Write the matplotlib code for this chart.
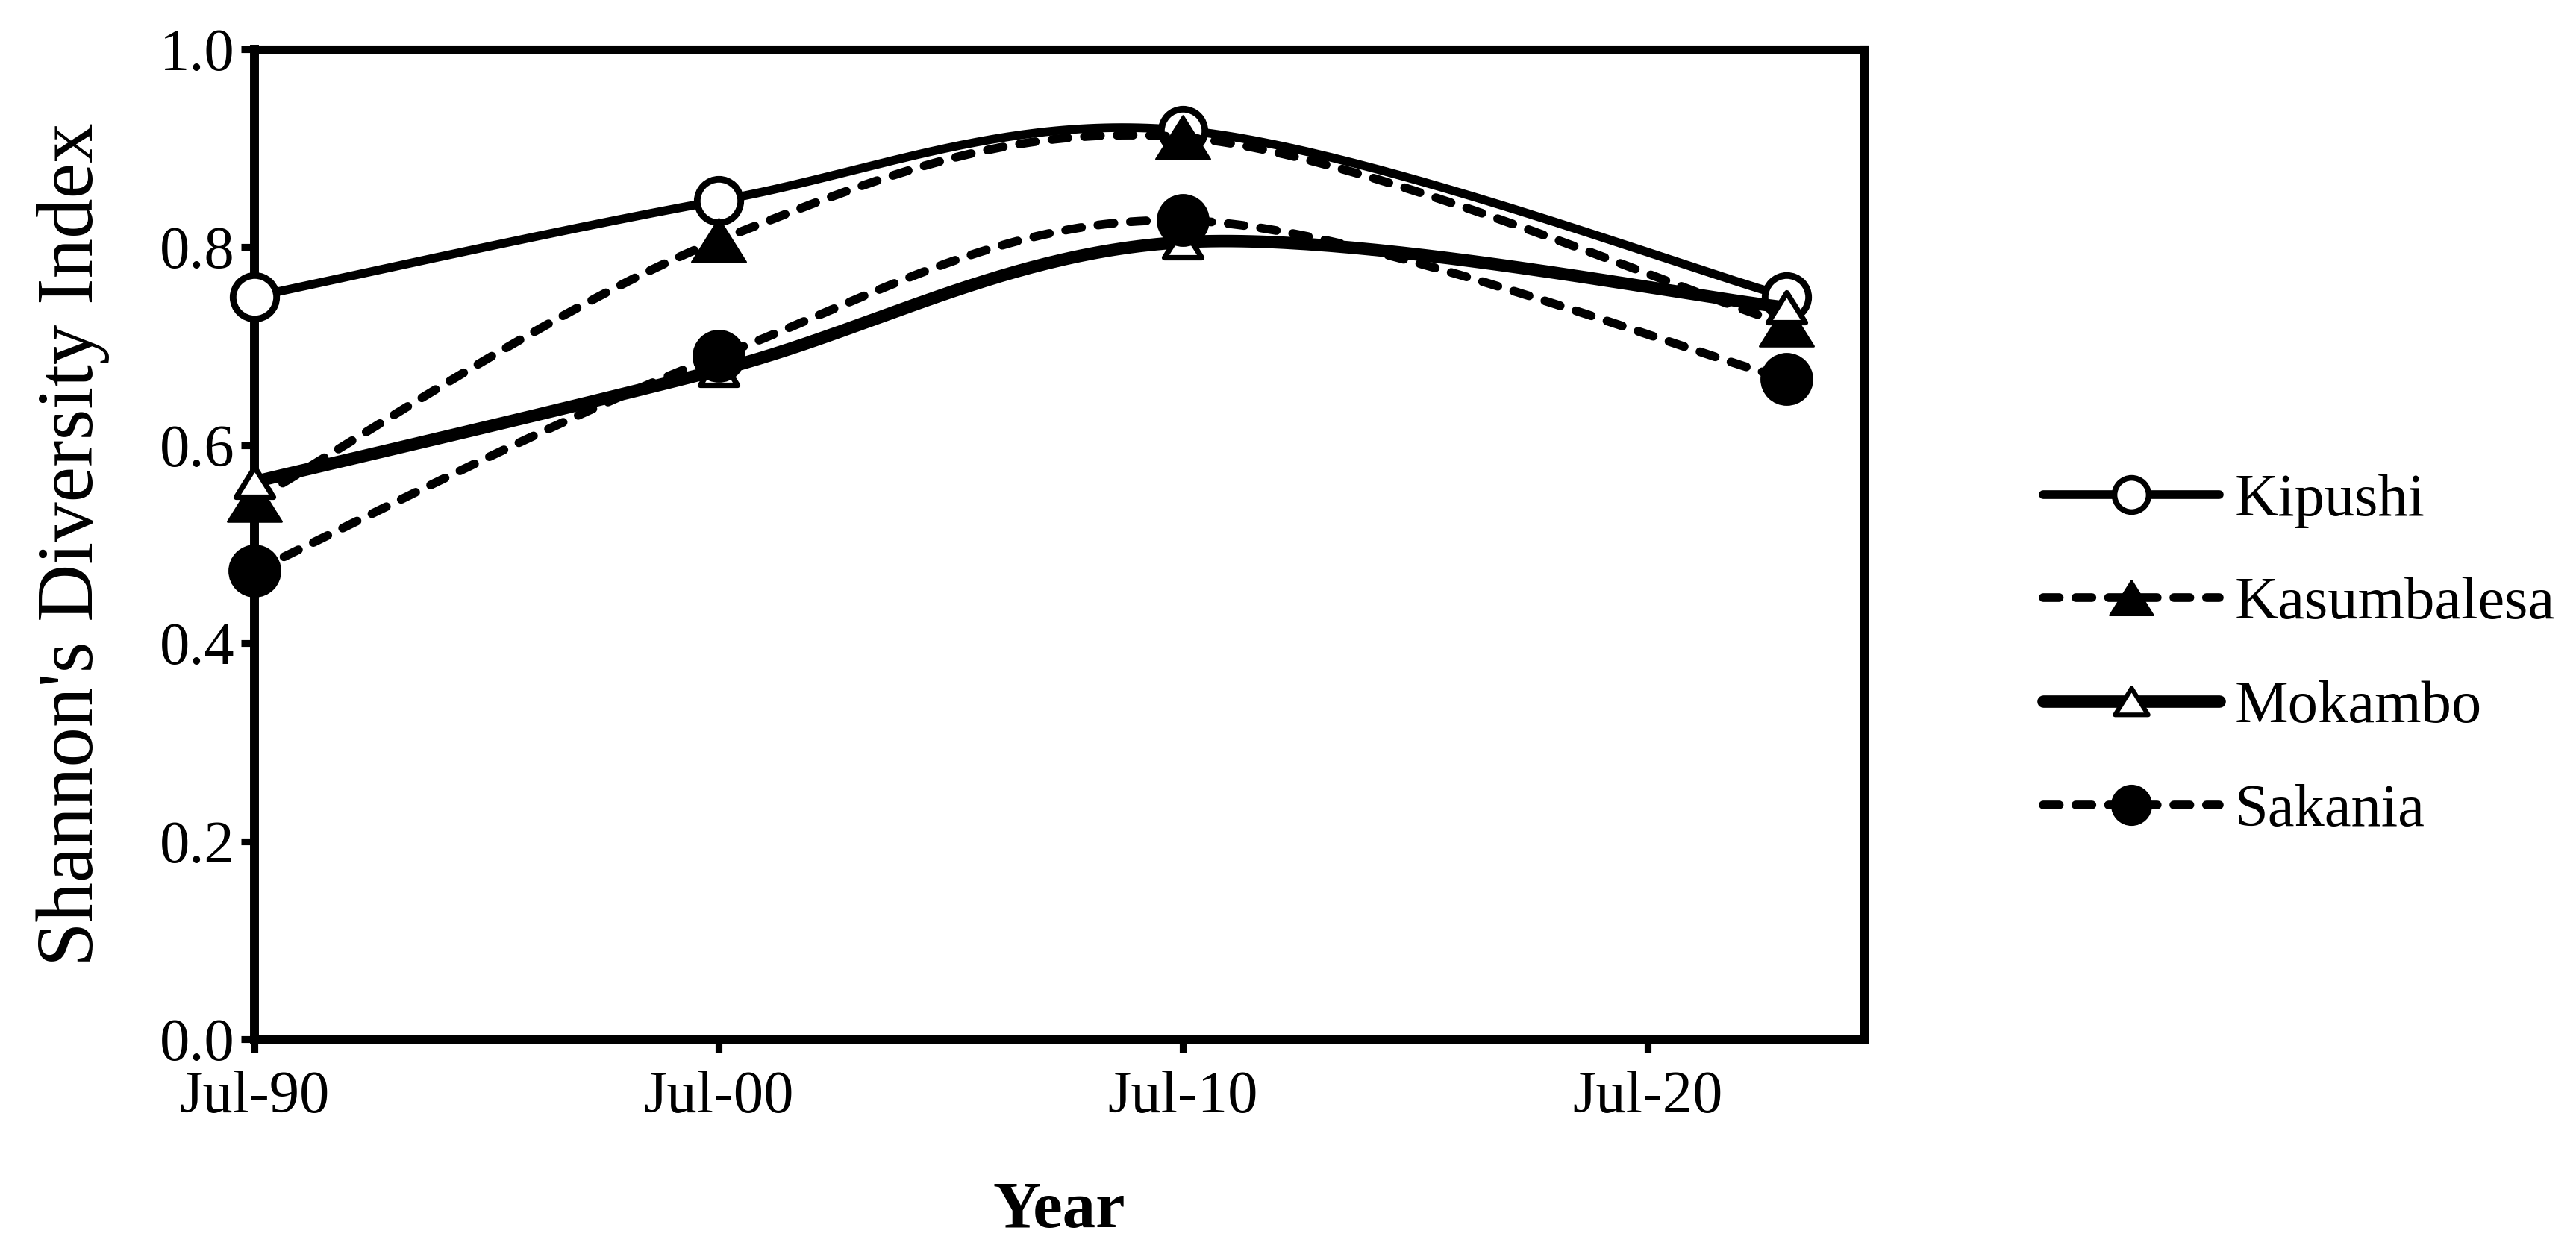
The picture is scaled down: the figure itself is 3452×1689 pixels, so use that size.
import datetime as dt

import matplotlib
matplotlib.use("Agg")
import matplotlib.dates as mdates
import matplotlib.pyplot as plt
import numpy as np
from matplotlib.lines import Line2D
from matplotlib.path import Path

plt.rcParams["font.family"] = ["Liberation Serif", "DejaVu Serif"]

# data
dates = [dt.date(1990, 7, 1), dt.date(2000, 7, 1), dt.date(2010, 7, 1), dt.date(2023, 7, 1)]
sites = ["Kipushi", "Kasumbalesa", "Mokambo", "Sakania"]
kipushi = [0.750, 0.847, 0.918, 0.750]
kasumbalesa = [0.545, 0.807, 0.911, 0.722]
mokambo = [0.563, 0.676, 0.805, 0.739]
sakania = [0.473, 0.690, 0.827, 0.667]
y_ticks = [0.0, 0.2, 0.4, 0.6, 0.8, 1.0]
x_ticks = [dt.date(1990, 7, 1), dt.date(2000, 7, 1), dt.date(2010, 7, 1), dt.date(2020, 7, 1)]

# Excel's triangles are a bit wider than tall
tri = Path([(0, 0.8), (-1, -0.8), (1, -0.8), (0, 0.8)],
           [Path.MOVETO, Path.LINETO, Path.LINETO, Path.CLOSEPOLY])

dash = (0, (1.85, 1.9))
styles = {
    "Kipushi": dict(ls="-", lw=4.2, marker="o", ms=21, lms=16.5, mfc="white", mew=3.2),
    "Kasumbalesa": dict(ls=dash, lw=4.2, marker=tri, ms=26, lms=21, mfc="black", mew=1.0),
    "Mokambo": dict(ls="-", lw=6.0, marker=tri, ms=18, lms=16, mfc="white", mew=2.6),
    "Sakania": dict(ls=dash, lw=4.2, marker="o", ms=24.5, lms=19, mfc="black", mew=1.0),
}


def smooth_curve(ax, xs, ys, n=60):
    # Excel-like smoothed line: cubic Bezier through the points, built in screen space
    pts = ax.transData.transform(np.column_stack([xs, ys]))
    p = np.vstack([pts[0], pts, pts[-1]])
    t = np.linspace(0, 1, n)[:, None]
    parts = []
    for i in range(1, len(p) - 2):
        p0, p1, p2, p3 = p[i - 1], p[i], p[i + 1], p[i + 2]
        c1 = p1 + (p2 - p0) / 6
        c2 = p2 - (p3 - p1) / 6
        seg = (1 - t) ** 3 * p1 + 3 * (1 - t) ** 2 * t * c1 + 3 * (1 - t) * t ** 2 * c2 + t ** 3 * p2
        parts.append(seg if i == 1 else seg[1:])
    curve = ax.transData.inverted().transform(np.vstack(parts))
    marks = [k * (n - 1) for k in range(len(xs))]
    return curve[:, 0], curve[:, 1], marks


fig = plt.figure(figsize=(17.26, 8.445), dpi=200)
ax = fig.add_axes([0.0988, 0.1753, 0.6248, 0.7857])

xnum = mdates.date2num(dates)
ax.set_xlim(mdates.date2num(dt.date(1990, 7, 1)), mdates.date2num(dt.date(2025, 3, 1)))
ax.set_ylim(0, 1)

handles = []
for z, (name, vals) in enumerate(zip(sites, [kipushi, kasumbalesa, mokambo, sakania])):
    st = styles[name]
    cx, cy, marks = smooth_curve(ax, xnum, vals)
    ax.plot(cx, cy, color="black", linestyle=st["ls"], linewidth=st["lw"],
            marker=st["marker"], markersize=st["ms"], markerfacecolor=st["mfc"],
            markeredgecolor="black", markeredgewidth=st["mew"], markevery=marks,
            dash_capstyle="round", solid_capstyle="round", zorder=3 + z, clip_on=False)
    handles.append(Line2D([], [], color="black", linestyle=st["ls"], linewidth=st["lw"],
                          marker=st["marker"], markersize=st["lms"], markerfacecolor=st["mfc"],
                          markeredgecolor="black", markeredgewidth=st["mew"] * 0.85,
                          dash_capstyle="round", solid_capstyle="round"))

ax.set_yticks(y_ticks)
ax.yaxis.set_major_formatter(matplotlib.ticker.FormatStrFormatter("%.1f"))
ax.set_xticks(mdates.date2num(x_ticks))
ax.xaxis.set_major_formatter(mdates.DateFormatter("%b-%y"))

ax.tick_params(direction="out", length=6.5, width=3.3, labelsize=29, colors="black")
ax.tick_params(axis="x", pad=8.5)
ax.tick_params(axis="y", pad=3)

for side in ["left", "bottom", "top", "right"]:
    ax.spines[side].set_linewidth(4.0)
ax.spines["left"].set_linewidth(4.3)
ax.spines["bottom"].set_linewidth(4.5)

ax.set_ylabel("Shannon's Diversity Index", fontsize=38.5, labelpad=24)
ax.set_xlabel("Year", fontsize=32, fontweight="bold", labelpad=27)

fig.legend(handles, sites, loc="center left", bbox_to_anchor=(0.7932, 0.4795),
           frameon=False, fontsize=29, handlelength=2.93, handletextpad=0.26,
           labelspacing=0.81, borderaxespad=0, borderpad=0)

fig.savefig("out.png", dpi=200)
